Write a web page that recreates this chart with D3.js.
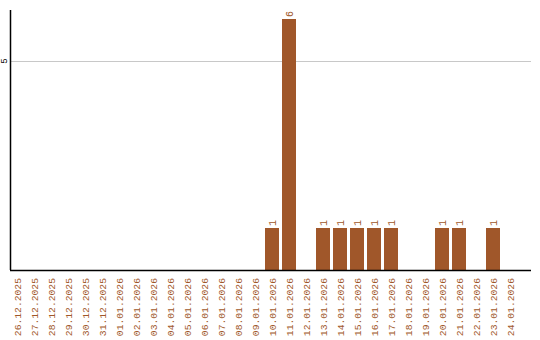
<!DOCTYPE html>
<html><head><meta charset="utf-8">
<script src="https://cdn.jsdelivr.net/npm/d3@7"></script>
<style>body{margin:0;background:#fff}svg{display:block}</style>
</head><body>
<script>
const categories = ["26.12.2025","27.12.2025","28.12.2025","29.12.2025","30.12.2025","31.12.2025","01.01.2026","02.01.2026","03.01.2026","04.01.2026","05.01.2026","06.01.2026","07.01.2026","08.01.2026","09.01.2026","10.01.2026","11.01.2026","12.01.2026","13.01.2026","14.01.2026","15.01.2026","16.01.2026","17.01.2026","18.01.2026","19.01.2026","20.01.2026","21.01.2026","22.01.2026","23.01.2026","24.01.2026"];
const values = [0,0,0,0,0,0,0,0,0,0,0,0,0,0,0,1,6,0,1,1,1,1,1,0,0,1,1,0,1,0];
const yTicks = [5];

const W=540,H=340, color="#a0572a";
const svg=d3.select("body").append("svg").attr("width",W).attr("height",H);
const x=d3.scaleBand().domain(categories).range([8.5,518.5]).paddingInner(3/17).paddingOuter(3/34);
const y=d3.scaleLinear().domain([0,6.22]).range([270,10]);

// gridlines
svg.append("g").selectAll("line").data(yTicks).join("line")
 .attr("x1",11).attr("x2",531).attr("y1",d=>Math.round(y(d))+0.5).attr("y2",d=>Math.round(y(d))+0.5)
 .attr("stroke","#c8c8c8").attr("stroke-width",1);

// bars
svg.append("g").selectAll("rect").data(categories.map((c,i)=>({c,v:values[i]})).filter(d=>d.v>0)).join("rect")
 .attr("x",d=>Math.round(x(d.c))).attr("width",Math.round(x.bandwidth()))
 .attr("y",d=>Math.round(y(d.v))).attr("height",d=>270-Math.round(y(d.v)))
 .attr("fill",color);

// value labels
svg.append("g").selectAll("text").data(categories.map((c,i)=>({c,v:values[i]})).filter(d=>d.v>0)).join("text")
 .attr("transform",d=>`translate(${x(d.c)+x.bandwidth()/2+3.5},${Math.round(y(d.v))-2}) rotate(-90)`)
 .attr("text-anchor","start").attr("font-family","Liberation Mono, monospace").attr("font-size",10)
 .attr("fill",color).text(d=>d.v);

// axes
svg.append("line").attr("x1",10.5).attr("x2",10.5).attr("y1",10).attr("y2",270).attr("stroke","#000").attr("stroke-width",1.5);
svg.append("line").attr("x1",10).attr("x2",531).attr("y1",270.5).attr("y2",270.5).attr("stroke","#000").attr("stroke-width",1.5);

// y tick labels
svg.append("g").selectAll("text").data(yTicks).join("text")
 .attr("transform",d=>`translate(7,${y(d)}) rotate(-90)`)
 .attr("text-anchor","middle").attr("font-family","Liberation Mono, monospace").attr("font-size",9)
 .attr("fill","#000").text(d=>d);

// x labels
svg.append("g").selectAll("text").data(categories).join("text")
 .attr("transform",d=>`translate(${x(d)+x.bandwidth()/2+3.5},278) rotate(-90)`)
 .attr("text-anchor","end").attr("font-family","Liberation Mono, monospace").attr("font-size",9.7)
 .attr("fill",color).text(d=>d);
</script>
</body></html>
